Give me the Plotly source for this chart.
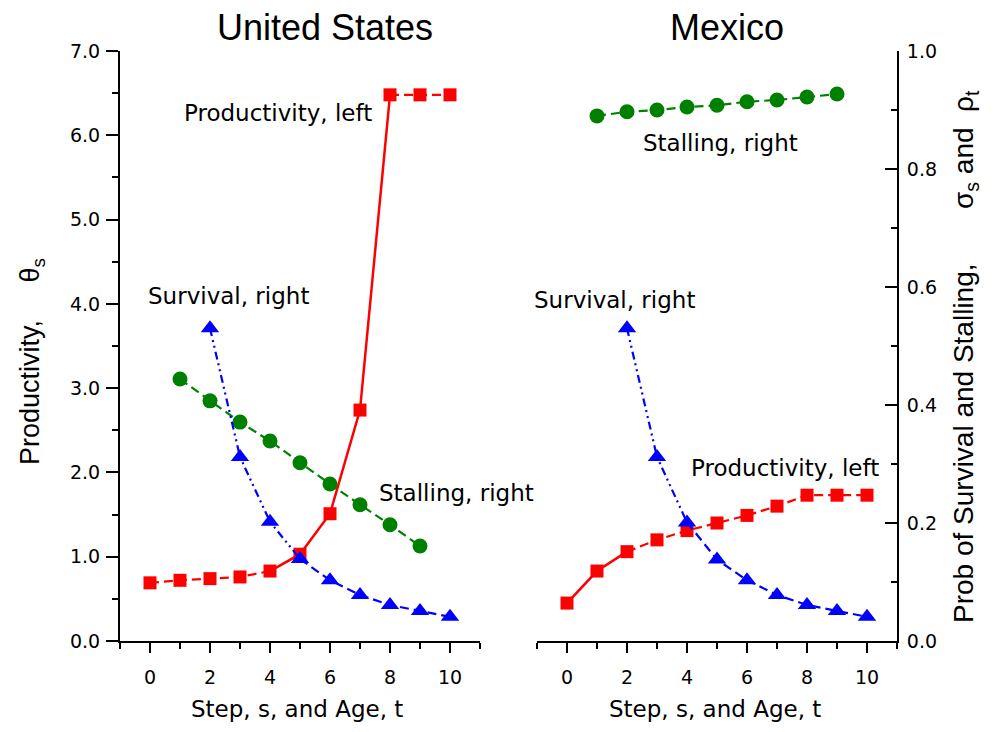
import plotly.graph_objects as go

steps = [0, 1, 2, 3, 4, 5, 6, 7, 8, 9, 10]

# United States
us_prod_x = steps
us_prod = [0.69, 0.72, 0.74, 0.76, 0.83, 1.03, 1.51, 2.74, 6.48, 6.48, 6.48]
us_surv_x = [2, 3, 4, 5, 6, 7, 8, 9, 10]
us_surv = [0.530, 0.312, 0.202, 0.139, 0.103, 0.078, 0.061, 0.051, 0.041]
us_stall_x = [1, 2, 3, 4, 5, 6, 7, 8, 9]
us_stall = [0.444, 0.407, 0.371, 0.339, 0.302, 0.266, 0.231, 0.197, 0.161]

# Mexico
mx_prod_x = steps
mx_prod = [0.45, 0.83, 1.06, 1.20, 1.31, 1.40, 1.49, 1.60, 1.73, 1.73, 1.73]
mx_surv_x = [2, 3, 4, 5, 6, 7, 8, 9, 10]
mx_surv = [0.530, 0.312, 0.201, 0.138, 0.103, 0.078, 0.061, 0.051, 0.041]
mx_stall_x = [1, 2, 3, 4, 5, 6, 7, 8, 9]
mx_stall = [0.890, 0.897, 0.900, 0.905, 0.908, 0.914, 0.917, 0.922, 0.927]

left_ticks = [0, 1, 2, 3, 4, 5, 6, 7]
right_ticks = [0, 0.2, 0.4, 0.6, 0.8, 1.0]
x_ticks = [0, 2, 4, 6, 8, 10]

RED = "#ff0000"
BLUE = "#0000ff"
GREEN = "#008000"
DASH = "9px,5px"
DASHDOTDOT = "8px,4px,2px,4px,2px,4px"

fig = go.Figure()


def add_series(xs, ys, xa, ya, color, symbol, msize, segments):
    for (i0, i1, dash, w) in segments:
        fig.add_trace(go.Scatter(
            x=xs[i0:i1 + 1], y=ys[i0:i1 + 1], xaxis=xa, yaxis=ya, mode="lines",
            line=dict(color=color, width=w, dash=dash), showlegend=False,
            hoverinfo="skip"))
    fig.add_trace(go.Scatter(
        x=xs, y=ys, xaxis=xa, yaxis=ya, mode="markers",
        marker=dict(color=color, symbol=symbol, size=msize, line=dict(width=0)),
        showlegend=False))


# US panel
add_series(us_stall_x, us_stall, "x", "y2", GREEN, "circle", 15,
           [(0, 8, DASH, 2.2)])
add_series(us_surv_x, us_surv, "x", "y2", BLUE, "triangle-up", 16,
           [(0, 3, DASHDOTDOT, 2.2), (3, 8, DASH, 2.2)])
add_series(us_prod_x, us_prod, "x", "y", RED, "square", 13,
           [(0, 4, DASH, 2.2), (4, 8, "solid", 2.5), (8, 10, DASH, 2.2)])

# Mexico panel
add_series(mx_stall_x, mx_stall, "x2", "y4", GREEN, "circle", 15,
           [(0, 8, DASH, 2.2)])
add_series(mx_surv_x, mx_surv, "x2", "y4", BLUE, "triangle-up", 16,
           [(0, 2, DASHDOTDOT, 2.2), (2, 8, DASH, 2.2)])
add_series(mx_prod_x, mx_prod, "x2", "y3", RED, "square", 13,
           [(0, 2, "solid", 2.5), (2, 10, DASH, 2.2)])

# page body has an 8px margin: work in reference pixels shifted by OFF
OFF = 8
W, H = 993 - 2 * OFF, 732 - 2 * OFF


def px(x):
    return (x - OFF) / W


def py(y):
    return (H - (y - OFF)) / H


ydom = [py(641), py(51)]
xdom1 = [px(120), px(480)]
xdom2 = [px(537), px(897)]

tickfont = dict(family="DejaVu Sans, Liberation Sans, Arial", size=19, color="black")
NARROW = "Liberation Sans Narrow, Arial Narrow, Liberation Sans, Arial"

xcommon = dict(range=[-1, 11], tickvals=x_ticks, ticks="outside", ticklen=10,
               tickwidth=2, tickcolor="black", showline=True, linecolor="black",
               linewidth=2, showgrid=False, zeroline=False, tickfont=tickfont,
               ticklabelstandoff=8,
               minor=dict(dtick=1, tick0=-1, ticks="outside", ticklen=6,
                          tickwidth=2, tickcolor="black", showgrid=False))

fig.update_layout(
    width=W, height=H,
    margin=dict(l=0, r=0, t=0, b=0, autoexpand=False),
    paper_bgcolor="white", plot_bgcolor="white",
    showlegend=False,
    xaxis=dict(domain=xdom1, anchor="y", **xcommon),
    xaxis2=dict(domain=xdom2, anchor="y3", **xcommon),
    yaxis=dict(domain=ydom, range=[0, 7], anchor="x", tickvals=left_ticks,
               tickformat=".1f", ticks="outside", ticklen=12, tickwidth=2,
               tickcolor="black", showline=True, linecolor="black", linewidth=2,
               showgrid=False, zeroline=False, tickfont=tickfont,
               ticklabelstandoff=2,
               minor=dict(dtick=0.5, ticks="outside", ticklen=6, tickwidth=2,
                          tickcolor="black", showgrid=False)),
    yaxis2=dict(overlaying="y", anchor="x", range=[0, 1], visible=False),
    yaxis3=dict(domain=ydom, range=[0, 7], anchor="x2", visible=False),
    yaxis4=dict(overlaying="y3", anchor="x2", side="right", range=[0, 1],
                tickvals=right_ticks, tickformat=".1f", ticks="inside",
                ticklen=12, tickwidth=2, tickcolor="black", showline=True,
                linecolor="black", linewidth=2, showgrid=False, zeroline=False,
                tickfont=tickfont, ticklabelstandoff=4,
                minor=dict(dtick=0.1, ticks="inside", ticklen=6, tickwidth=2,
                           tickcolor="black", showgrid=False)),
)

labfont = dict(family="DejaVu Sans, Liberation Sans, Arial", size=23, color="black")
ann = []
# in-plot labels (data coordinates)
ann.append(dict(text="Productivity, left", x=4.25, y=6.26, xref="x", yref="y", font=labfont))
ann.append(dict(text="Survival, right", x=2.62, y=4.09, xref="x", yref="y", font=labfont))
ann.append(dict(text="Stalling, right", x=10.2, y=1.76, xref="x", yref="y", font=labfont))
ann.append(dict(text="Stalling, right", x=5.13, y=5.91, xref="x2", yref="y3", font=labfont))
ann.append(dict(text="Survival, right", x=1.59, y=4.05, xref="x2", yref="y3", font=labfont))
ann.append(dict(text="Productivity, left", x=7.28, y=2.05, xref="x2", yref="y3", font=labfont))
# titles
tfont = dict(family="Liberation Sans, Arial", size=36, color="black")
ann.append(dict(text="United States", x=px(325), y=py(27), xref="paper", yref="paper", font=tfont))
ann.append(dict(text="Mexico", x=px(727), y=py(27), xref="paper", yref="paper", font=tfont))
# x titles (anchored to the bottom edge so they are not clipped)
xtf = dict(family="DejaVu Sans, Liberation Sans, Arial", size=23, color="black")
ann.append(dict(text="Step, s, and Age, t", x=px(297), y=0, xref="paper", yref="paper",
                yanchor="bottom", font=xtf))
ann.append(dict(text="Step, s, and Age, t", x=px(715), y=0, xref="paper", yref="paper",
                yanchor="bottom", font=xtf))
# y titles
sp = "\u00a0" * 5
ann.append(dict(text="Productivity," + sp + "θ<sub>s</sub>", x=px(32), y=py(362),
                xref="paper", yref="paper", textangle=-90,
                font=dict(family=NARROW, size=27, color="black")))
ann.append(dict(text="Prob of Survival and Stalling," + "\u00a0" * 7 + "σ<sub>s</sub> and\u00a0\u00a0ρ<sub>t</sub>",
                x=px(965), y=py(357), xref="paper", yref="paper", textangle=-90,
                font=dict(family=NARROW, size=28, color="black")))
for a in ann:
    a.setdefault("showarrow", False)
    a.setdefault("xanchor", "center")
    a.setdefault("yanchor", "middle")
fig.update_layout(annotations=ann)

fig.write_html("out.html")
